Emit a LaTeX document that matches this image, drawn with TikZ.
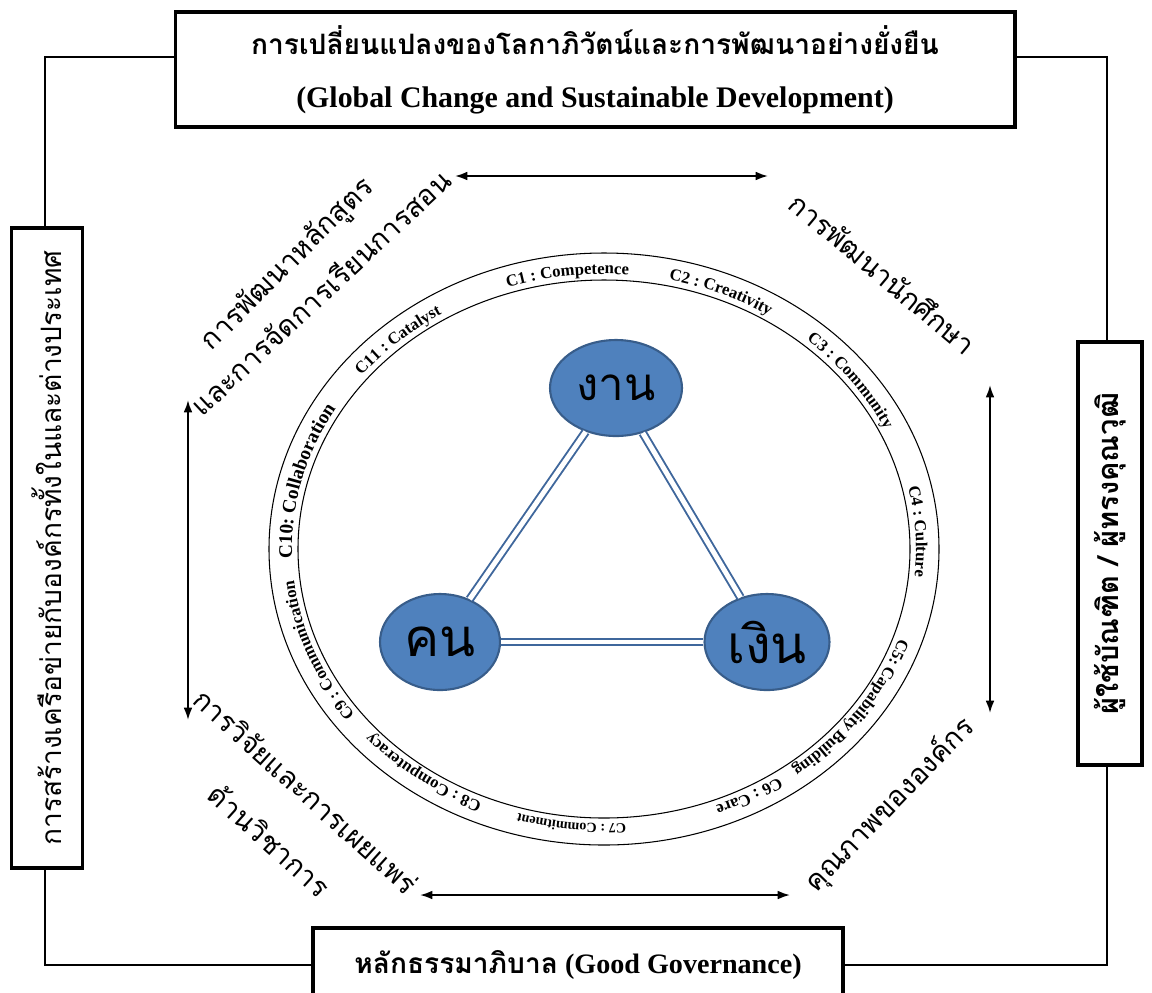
\documentclass[tikz,border=0pt]{standalone}
\usepackage{fontspec}
\setmainfont{Liberation Serif}
\newfontfamily\thaifont[Script=Thai]{Loma}
\usetikzlibrary{shapes.geometric, arrows.meta, decorations.text}

\definecolor{hubblue}{HTML}{4F81BD}
\definecolor{hubedge}{HTML}{385D8A}
\definecolor{linkblue}{HTML}{3F679C}

\begin{document}
\begin{tikzpicture}[x=0.02cm, y=0.02cm, >={Latex[length=7pt, width=5pt]},
    sidebox/.style={draw, line width=1.8pt, fill=white, inner sep=0pt, align=center},
    hub/.style={ellipse, draw=hubedge, line width=1.2pt, fill=hubblue, inner sep=0pt, minimum height=1.92cm, font=\thaifont\fontsize{30}{32}\selectfont},
    link/.style={draw=linkblue, line width=1.1pt, double=white, double distance=2.8pt},
    topic/.style={inner sep=0pt, font=\thaifont\fontsize{16}{20}\selectfont},
    ringlabel/.style={decorate, decoration={text along path, text={|\bfseries\fontsize{9.5}{10}\selectfont|#1}}}]
    \useasboundingbox (0,0) rectangle (1152,-992);

    \coordinate (c1) at (45,-57);
    \coordinate (c2) at (1107,-57);
    \coordinate (c3) at (1107,-965);
    \coordinate (c4) at (45,-965);
    \coordinate (ctr) at (604,-549);

    \node[sidebox, minimum width=16.8cm, minimum height=2.3cm, font=\fontsize{17}{20}\selectfont\bfseries] (global) at (595,-69.5)
        {{\thaifont\fontsize{16}{20}\selectfont การเปลี่ยนแปลงของโลกาภิวัตน์และการพัฒนาอย่างยั่งยืน}\\[10pt] (Global Change and Sustainable Development)};
    \node[sidebox, rotate=90, minimum width=12.8cm, minimum height=1.42cm, font=\thaifont\fontsize{16}{20}\selectfont] (network) at (47,-548) {การสร้างเครือข่ายกับองค์กรทั้งในและต่างประเทศ};
    \node[sidebox, rotate=90, minimum width=8.46cm, minimum height=1.28cm, font=\thaifont\bfseries\fontsize{16.5}{20}\selectfont] (users) at (1110,-553.5) {ผู้ใช้บัณฑิต / ผู้ทรงคุณวุฒิ};
    \node[sidebox, minimum width=10.6cm, minimum height=1.48cm, font=\fontsize{16}{20}\selectfont\bfseries] (governance) at (578,-965) {{\thaifont หลักธรรมาภิบาล} (Good Governance)};

    \draw[line width=1.1pt] (global.west |- c1) -- (c1) -- (c1 |- network.east);
    \draw[line width=1.1pt] (c1 |- network.west) -- (c4) -- (governance.west);
    \draw[line width=1.1pt] (governance.east) -- (c3) -- (c3 |- users.west);
    \draw[line width=1.1pt] (c3 |- users.east) -- (c2) -- (global.east |- c2);

    \draw[line width=0.6pt] (ctr) ellipse [x radius=335, y radius=296];
    \draw[line width=0.6pt] (ctr) ellipse [x radius=306, y radius=269];

    \path[ringlabel={C1 : Competence}] ([shift={(108:312 and 275)}]ctr) arc[start angle=108, delta angle=-80, x radius=312, y radius=275];
    \path[ringlabel={C2 : Creativity}] ([shift={(78:312 and 275)}]ctr) arc[start angle=78, delta angle=-80, x radius=312, y radius=275];
    \path[ringlabel={C3 : Community}] ([shift={(49.5:312 and 275)}]ctr) arc[start angle=49.5, delta angle=-80, x radius=312, y radius=275];
    \path[ringlabel={C4 : Culture}] ([shift={(13:312 and 275)}]ctr) arc[start angle=13, delta angle=-80, x radius=312, y radius=275];
    \path[ringlabel={C5: Capability Building}] ([shift={(-19:312 and 275)}]ctr) arc[start angle=-19, delta angle=-80, x radius=312, y radius=275];
    \path[ringlabel={C6 : Care}] ([shift={(-56:312 and 275)}]ctr) arc[start angle=-56, delta angle=-80, x radius=312, y radius=275];
    \path[decorate, decoration={text along path, text={|\bfseries\fontsize{8}{8}\selectfont|C7 : Commitment}}] ([shift={(-86:312 and 275)}]ctr) arc[start angle=-86, delta angle=-80, x radius=312, y radius=275];
    \path[ringlabel={C8 : Computeracy}] ([shift={(-113:312 and 275)}]ctr) arc[start angle=-113, delta angle=-80, x radius=312, y radius=275];
    \path[ringlabel={C9 : Communication}] ([shift={(-143:312 and 275)}]ctr) arc[start angle=-143, delta angle=-80, x radius=312, y radius=275];
    \path[decorate, decoration={text along path, text={|\bfseries\fontsize{11}{12}\selectfont|C10: Collaboration}}] ([shift={(-178:312 and 275)}]ctr) arc[start angle=-178, delta angle=-80, x radius=312, y radius=275];
    \path[ringlabel={C11 : Catalyst}] ([shift={(141:312 and 275)}]ctr) arc[start angle=141, delta angle=-80, x radius=312, y radius=275];

    \node[hub, minimum width=2.64cm, font=\thaifont\fontsize{26}{28}\selectfont] (work) at (616,-388) {งาน};
    \node[hub, minimum width=2.4cm] (people) at (440,-642) {คน};
    \node[hub, minimum width=2.5cm] (money) at (767,-642) {เงิน};
    \draw[link] (work) -- (people);
    \draw[link] (work) -- (money);
    \draw[link] (people) -- (money);

    \node[topic, rotate=45] (course) at (288,-265) {การพัฒนาหลักสูตร};
    \node[topic, rotate=43] (teach) at (320,-292) {และการจัดการเรียนการสอน};
    \node[topic, rotate=-40] (student) at (883,-273) {การพัฒนานักศึกษา};
    \node[topic, rotate=46] (quality) at (890,-805) {คุณภาพขององค์กร};
    \node[topic, rotate=-42] (research) at (306,-791) {การวิจัยและการเผยแพร่};
    \node[topic, rotate=-42] (academic) at (270,-840) {ด้านวิชาการ};

    \coordinate (t1) at (455,-176);
    \coordinate (t2) at (768,-176);
    \coordinate (b1) at (420,-895);
    \coordinate (b2) at (790,-895);
    \coordinate (l1) at (188,-400);
    \coordinate (l2) at (188,-720);
    \coordinate (r1) at (990,-385);
    \coordinate (r2) at (990,-713);
    \draw[<->, line width=1.1pt] (t1) -- (t2);
    \draw[<->, line width=1.1pt] (b1) -- (b2);
    \draw[<->, line width=1.1pt] (l1) -- (l2);
    \draw[<->, line width=1.1pt] (r1) -- (r2);
\end{tikzpicture}
\end{document}
